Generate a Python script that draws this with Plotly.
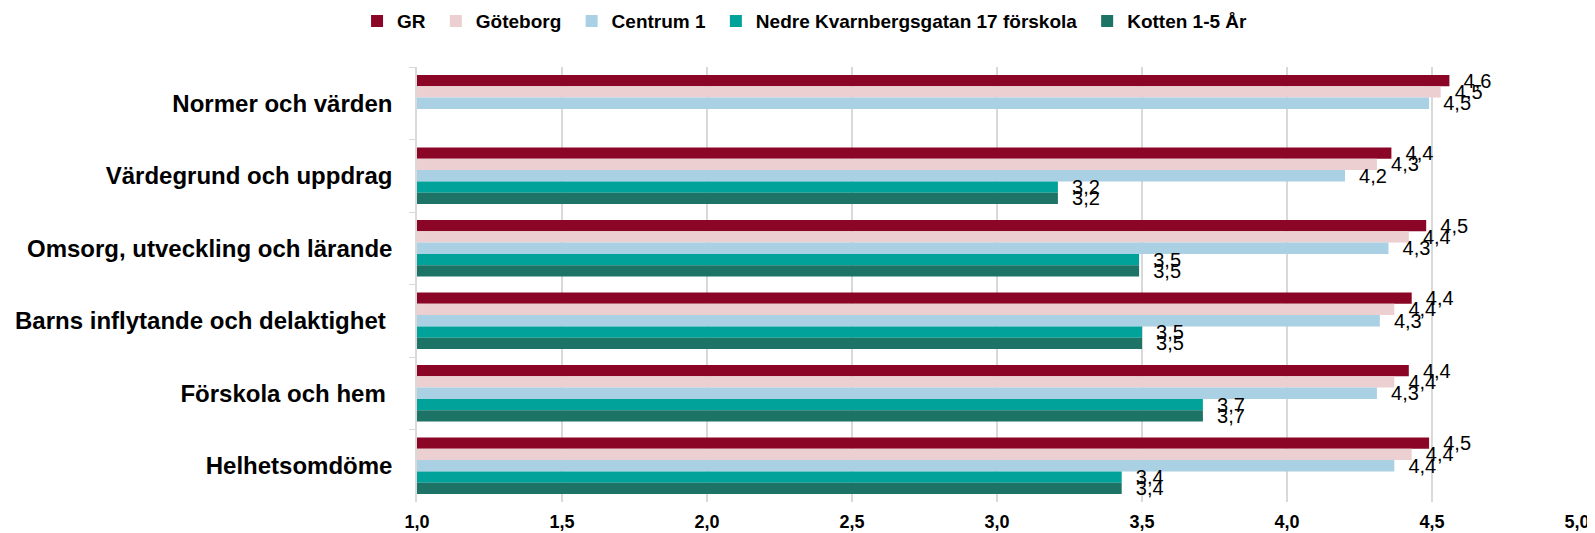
import plotly.graph_objects as go

categories = ["Normer och värden", "Värdegrund och uppdrag", "Omsorg, utveckling och lärande",
              "Barns inflytande och delaktighet ", "Förskola och hem ", "Helhetsomdöme"]
series_names = ["GR", "Göteborg", "Centrum 1", "Nedre Kvarnbergsgatan 17 förskola", "Kotten 1-5 År"]
gr = [4.56, 4.36, 4.48, 4.43, 4.42, 4.49]
goteborg = [4.53, 4.31, 4.42, 4.37, 4.37, 4.43]
centrum = [4.49, 4.20, 4.35, 4.32, 4.31, 4.37]
nedre = [None, 3.21, 3.49, 3.50, 3.71, 3.43]
kotten = [None, 3.21, 3.49, 3.50, 3.71, 3.43]
colors = ["#8B0626", "#EBCFD1", "#A9D0E3", "#00A29A", "#1C7366"]
x_ticks = [1.0, 1.5, 2.0, 2.5, 3.0, 3.5, 4.0, 4.5, 5.0]

NB = "\u00a0"
fig = go.Figure()
for name, vals, col in zip(series_names, [gr, goteborg, centrum, nedre, kotten], colors):
    fig.add_trace(go.Bar(
        y=categories, x=vals, name=name + NB, orientation="h",
        marker=dict(color=col, line=dict(width=0)),
        texttemplate=NB * 2 + "%{x:.1f}", textposition="outside", cliponaxis=False,
        constraintext="none",
        textfont=dict(family="Liberation Sans, Arial, sans-serif", size=20, color="#000000"),
    ))

fig.update_layout(
    width=1587, height=525,
    barmode="group", bargap=0.22, bargroupgap=0,
    separators=", ",
    plot_bgcolor="white", paper_bgcolor="white",
    margin=dict(l=409, r=18, t=59, b=31, autoexpand=False),
    font=dict(family="Liberation Sans, Arial, sans-serif", color="#000000"),
    legend=dict(orientation="h", xref="container", x=0.5035, xanchor="center",
                yref="container", y=0.975, yanchor="middle",
                font=dict(size=19, weight="bold"), traceorder="normal",
                itemwidth=30),
    xaxis=dict(range=[1.0, 5.0], tickvals=x_ticks, tickformat=".1f",
               showgrid=True, gridcolor="#D9D9D9", gridwidth=1.5, zeroline=False,
               showline=False, ticks="", ticklabelstandoff=7,
               tickfont=dict(size=18, weight="bold")),
    yaxis=dict(autorange="reversed", showgrid=False, showline=True, linecolor="#D9D9D9",
               linewidth=1.5, ticks="outside", tickson="boundaries", ticklen=6,
               tickcolor="#D9D9D9", ticklabelstandoff=18,
               tickfont=dict(size=24, weight="bold")),
)
fig.write_html("out.html")
